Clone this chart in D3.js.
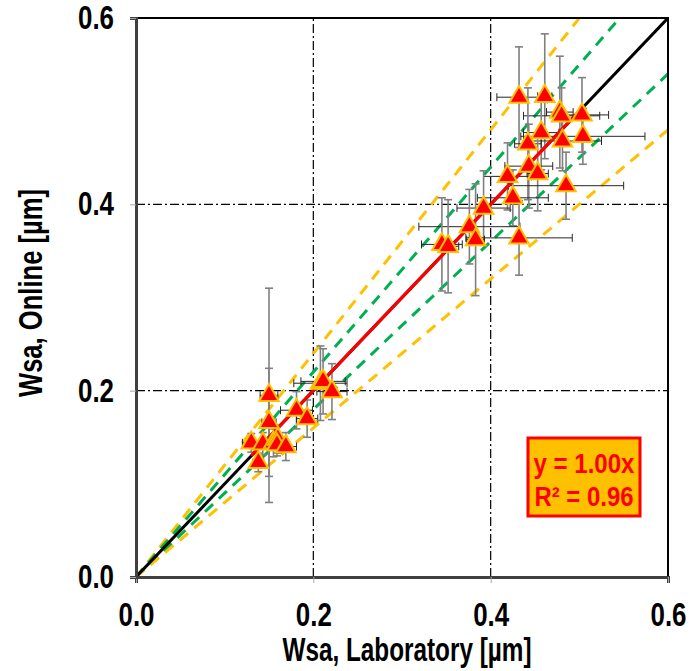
<!DOCTYPE html>
<html>
<head>
<meta charset="utf-8">
<script src="https://cdn.jsdelivr.net/npm/d3@7"></script>
<style>
  body { margin: 0; background: #fff; }
  text { font-family: "Liberation Sans", Arial, sans-serif; font-weight: bold; }
</style>
</head>
<body>
<svg width="689" height="671"></svg>
<script>
// measured values (µm)
var labX =      [0.432, 0.461, 0.478, 0.480, 0.503, 0.457, 0.481, 0.504, 0.442, 0.443,
                 0.453, 0.419, 0.485, 0.425, 0.392, 0.376, 0.432, 0.383, 0.345, 0.352,
                 0.150, 0.150, 0.130, 0.143, 0.155, 0.160, 0.159, 0.169, 0.138, 0.181,
                 0.193, 0.208, 0.211, 0.221];
var onlineY =   [0.515, 0.516, 0.499, 0.495, 0.496, 0.477, 0.468, 0.473, 0.465, 0.441,
                 0.433, 0.430, 0.420, 0.407, 0.396, 0.376, 0.364, 0.362, 0.357, 0.355,
                 0.195, 0.166, 0.144, 0.143, 0.144, 0.148, 0.142, 0.140, 0.123, 0.179,
                 0.170, 0.208, 0.210, 0.199];
var labErr =    [0.025, 0.008, 0.015, 0.043, 0.030, 0.020, 0.044, 0.070, 0.015, 0.027,
                 0.012, 0.027, 0.065, 0.040, 0.030, 0.057, 0.060, 0.010, 0.023, 0.012,
                 0.010, 0.008, 0.010, 0.010, 0.012, 0.010, 0.010, 0.012, 0.006, 0.018,
                 0.012, 0.030, 0.025, 0.017];
var onlineErr = [0.054, 0.067, 0.060, 0.030, 0.040, 0.040, 0.032, 0.030, 0.060, 0.045,
                 0.040, 0.036, 0.036, 0.030, 0.040, 0.040, 0.040, 0.060, 0.050, 0.050,
                 0.115, 0.058, 0.010, 0.012, 0.015, 0.015, 0.012, 0.015, 0.010, 0.020,
                 0.020, 0.040, 0.035, 0.030];
var ticks = [0.0, 0.2, 0.4, 0.6];
var gridTicks = [0.2, 0.4];
var slope = 1.00, r2 = 0.96;
var bounds = [1.2, 1.1, 0.9, 0.8];        // ±10 % and ±20 % lines
var boundColors = ['#ffc000', '#00b050', '#00b050', '#ffc000'];

var svg = d3.select('svg');
var x = d3.scaleLinear().domain([0, 0.6]).range([136, 668]);
var y = d3.scaleLinear().domain([0, 0.6]).range([577, 18]);

// narrow bold text: squeeze Liberation Sans to the given width
function narrow(sel, w) {
    sel.attr('textLength', w).attr('lengthAdjust', 'spacingAndGlyphs');
}

// grid
svg.selectAll('.gx').data(gridTicks).enter().append('line')
    .attr('x1', function(d) { return x(d); }).attr('x2', function(d) { return x(d); })
    .attr('y1', y(0)).attr('y2', y(0.6))
    .attr('stroke', '#000').attr('stroke-width', 1.2)
    .attr('stroke-dasharray', '9,3,2,3');
svg.selectAll('.gy').data(gridTicks).enter().append('line')
    .attr('y1', function(d) { return y(d); }).attr('y2', function(d) { return y(d); })
    .attr('x1', x(0)).attr('x2', x(0.6))
    .attr('stroke', '#000').attr('stroke-width', 1.2)
    .attr('stroke-dasharray', '9,3,2,3');

// clip for lines
svg.append('clipPath').attr('id', 'plot').append('rect')
    .attr('x', x(0)).attr('y', y(0.6))
    .attr('width', x(0.6) - x(0)).attr('height', y(0) - y(0.6));

var lines = svg.append('g').attr('clip-path', 'url(#plot)');
bounds.forEach(function(k, i) {
    lines.append('line')
        .attr('x1', x(0)).attr('y1', y(0))
        .attr('x2', x(0.6)).attr('y2', y(0.6 * k))
        .attr('stroke', boundColors[i]).attr('stroke-width', 3)
        .attr('stroke-dasharray', '11,8');
});
lines.append('line')
    .attr('x1', x(0)).attr('y1', y(0))
    .attr('x2', x(0.6)).attr('y2', y(0.6))
    .attr('stroke', '#000').attr('stroke-width', 3);

// error bars
var eb = svg.append('g');
labX.forEach(function(v, i) {
    var cx = x(v), cy = y(onlineY[i]);
    var y1 = y(onlineY[i] + onlineErr[i]), y2 = y(onlineY[i] - onlineErr[i]);
    eb.append('line').attr('x1', cx).attr('x2', cx).attr('y1', y1).attr('y2', y2)
        .attr('stroke', '#808080').attr('stroke-width', 1.6);
    [y1, y2].forEach(function(yy) {
        eb.append('line').attr('x1', cx - 4).attr('x2', cx + 4).attr('y1', yy).attr('y2', yy)
            .attr('stroke', '#808080').attr('stroke-width', 1.6);
    });
    var x1 = x(v - labErr[i]), x2 = x(v + labErr[i]);
    eb.append('line').attr('x1', x1).attr('x2', x2).attr('y1', cy).attr('y2', cy)
        .attr('stroke', '#262626').attr('stroke-width', 1);
    [x1, x2].forEach(function(xx) {
        eb.append('line').attr('x1', xx).attr('x2', xx).attr('y1', cy - 4).attr('y2', cy + 4)
            .attr('stroke', '#262626').attr('stroke-width', 1);
    });
});

// trendline over the data range
var xmin = d3.min(labX), xmax = d3.max(labX);
svg.append('line')
    .attr('x1', x(xmin)).attr('y1', y(slope * xmin))
    .attr('x2', x(xmax)).attr('y2', y(slope * xmax))
    .attr('stroke', '#ff0000').attr('stroke-width', 3.2);

// markers
svg.selectAll('.pt').data(labX).enter().append('path')
    .attr('d', d3.symbol().type(d3.symbolTriangle).size(165))
    .attr('transform', function(d, i) { return 'translate(' + x(d) + ',' + y(onlineY[i]) + ')'; })
    .attr('fill', '#ff0000')
    .attr('stroke', '#ffc000').attr('stroke-width', 2);

// frame
svg.append('rect')
    .attr('x', x(0)).attr('y', y(0.6))
    .attr('width', x(0.6) - x(0)).attr('height', y(0) - y(0.6))
    .attr('fill', 'none').attr('stroke', '#000').attr('stroke-width', 2);

// axes
var xAxis = svg.append('g').attr('transform', 'translate(0,' + y(0) + ')')
    .call(d3.axisBottom(x).tickValues(ticks).tickFormat(d3.format('.1f')).tickSize(6).tickPadding(20));
var yAxis = svg.append('g').attr('transform', 'translate(' + x(0) + ',0)')
    .call(d3.axisLeft(y).tickValues(ticks).tickFormat(d3.format('.1f')).tickSize(6).tickPadding(16));
[xAxis, yAxis].forEach(function(a) {
    a.select('.domain').attr('stroke', '#404040').attr('stroke-width', 3);
    a.selectAll('.tick line').attr('stroke', '#a6a6a6');
    a.selectAll('text').attr('font-size', 33).attr('fill', '#000')
        .style('font-family', '"Liberation Sans", Arial, sans-serif')
        .call(narrow, 36);
});

// axis titles
svg.append('text')
    .attr('x', 407).attr('y', 661)
    .attr('text-anchor', 'middle').attr('font-size', 33)
    .call(narrow, 249)
    .text('Wsa, Laboratory [µm]');
svg.append('text')
    .attr('transform', 'translate(42,293) rotate(-90)')
    .attr('text-anchor', 'middle').attr('font-size', 33)
    .call(narrow, 208)
    .text('Wsa, Online [µm]');

// equation box
svg.append('rect')
    .attr('x', 528).attr('y', 438).attr('width', 112).attr('height', 78)
    .attr('fill', '#ffc000').attr('stroke', '#ff0000').attr('stroke-width', 3);
svg.append('text')
    .attr('x', 584).attr('y', 473).attr('text-anchor', 'middle')
    .attr('font-size', 27).attr('fill', '#ff0000')
    .call(narrow, 101)
    .text('y = ' + slope.toFixed(2) + 'x');
svg.append('text')
    .attr('x', 584).attr('y', 506).attr('text-anchor', 'middle')
    .attr('font-size', 27).attr('fill', '#ff0000')
    .call(narrow, 99)
    .text('R² = ' + r2.toFixed(2));
</script>
</body>
</html>
